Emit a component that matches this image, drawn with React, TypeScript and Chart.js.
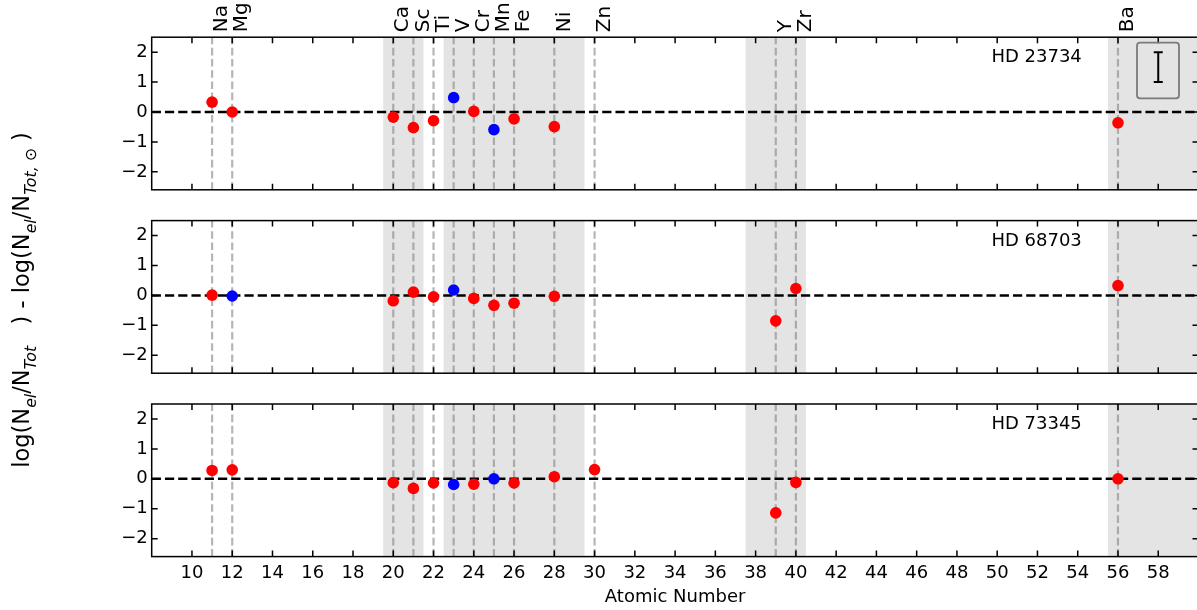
import React, { useEffect, useRef } from 'react';
import { Chart, registerables } from 'chart.js';

Chart.register(...registerables);

// ---------- data ----------
const elementNames = ['Na', 'Mg', 'Ca', 'Sc', 'Ti', 'V', 'Cr', 'Mn', 'Fe', 'Ni', 'Zn', 'Y', 'Zr', 'Ba'];
const atomicNumbers = [11, 12, 20, 21, 22, 23, 24, 25, 26, 28, 30, 39, 40, 56];
const xTicks = [10, 12, 14, 16, 18, 20, 22, 24, 26, 28, 30, 32, 34, 36, 38, 40, 42, 44, 46, 48, 50, 52, 54, 56, 58];
const yTicks = [-2, -1, 0, 1, 2];
const shadeStarts = [19.5, 22.5, 37.5, 55.5];
const shadeEnds = [21.5, 29.5, 40.5, 60];
const starNames = ['HD 23734', 'HD 68703', 'HD 73345'];

//                  Na    Mg    Ca     Sc     Ti     V      Cr     Mn     Fe     Ni     Zn    Y      Zr     Ba
const hd23734Red = [0.33, 0.0, -0.17, -0.52, -0.29, null, 0.02, null, -0.23, -0.49, null, null, null, -0.36];
const hd23734Blue = [null, null, null, null, null, 0.48, null, -0.59, null, null, null, null, null, null];
const hd68703Red = [0.01, null, -0.18, 0.11, -0.05, null, -0.1, -0.33, -0.26, -0.03, null, -0.85, 0.23, 0.33];
const hd68703Blue = [null, -0.02, null, null, null, 0.18, null, null, null, null, null, null, null, null];
const hd73345Red = [0.28, 0.3, -0.13, -0.32, -0.14, null, -0.18, null, -0.14, 0.07, 0.31, -1.14, -0.12, 0.0];
const hd73345Blue = [null, null, null, null, null, -0.19, null, 0.0, null, null, null, null, null, null];

const errorBarX = [58];
const errorBarY = [1.5];
const errorBarHalf = [0.5];

const redSeries = [hd23734Red, hd68703Red, hd73345Red];
const blueSeries = [hd23734Blue, hd68703Blue, hd73345Blue];

// ---------- layout / style ----------
const FONT = '"DejaVu Sans"';
const W = 1200;
const H = 610;
const PANEL_TOPS = [37.2, 220.6, 404];
const PANEL_BOTTOMS = [189.8, 373.2, 556.6];
const PLOT_LEFT = 151.7;
const PLOT_RIGHT = 1198.5;

function toPoints(vals: (number | null)[]) {
  const out: { x: number; y: number }[] = [];
  vals.forEach((v, i) => {
    if (v !== null && v !== undefined) out.push({ x: atomicNumbers[i], y: v });
  });
  return out;
}

function drawYLabel(ctx: CanvasRenderingContext2D, cx: number, cy: number, size: number) {
  const segs: { t: string; sub?: boolean; it?: boolean }[] = [
    { t: 'log(N' },
    { t: 'el', sub: true, it: true },
    { t: '/N' },
    { t: 'Tot', sub: true, it: true },
    { t: '   ) - log(N' },
    { t: 'el', sub: true, it: true },
    { t: '/N' },
    { t: 'Tot,', sub: true, it: true },
    { t: ' \u2299', sub: true },
    { t: ' )' },
  ];
  const subSize = size * 0.7;
  const fontFor = (s: { sub?: boolean; it?: boolean }) =>
    `${s.it ? 'italic ' : ''}${s.sub ? subSize : size}px ${FONT}`;
  let total = 0;
  const widths = segs.map((s) => {
    ctx.font = fontFor(s);
    const w = ctx.measureText(s.t).width;
    total += w;
    return w;
  });
  ctx.save();
  ctx.translate(cx, cy);
  ctx.rotate(-Math.PI / 2);
  ctx.fillStyle = '#000';
  ctx.textBaseline = 'alphabetic';
  ctx.textAlign = 'left';
  let xc = -total / 2;
  segs.forEach((s, i) => {
    ctx.font = fontFor(s);
    ctx.fillText(s.t, xc, s.sub ? size * 0.32 : 0);
    xc += widths[i];
  });
  ctx.restore();
}

function makePlugin(idx: number) {
  return {
    id: 'panelDeco' + idx,
    beforeDatasetsDraw(chart: any) {
      const { ctx, chartArea: a, scales } = chart;
      const xs = scales.x;
      const ys = scales.y;
      ctx.save();
      ctx.beginPath();
      ctx.rect(a.left, a.top, a.right - a.left, a.bottom - a.top);
      ctx.clip();
      // shaded spans
      ctx.fillStyle = '#e4e4e4';
      shadeStarts.forEach((s, i) => {
        const x0 = xs.getPixelForValue(s);
        const x1 = xs.getPixelForValue(shadeEnds[i]);
        ctx.fillRect(x0, a.top, x1 - x0, a.bottom - a.top);
      });
      // element lines
      ctx.strokeStyle = 'rgba(128,128,128,0.58)';
      ctx.lineWidth = 2.2;
      ctx.setLineDash([7.6, 3.6]);
      atomicNumbers.forEach((z) => {
        const px = xs.getPixelForValue(z);
        ctx.beginPath();
        ctx.moveTo(px, a.bottom);
        ctx.lineTo(px, a.top);
        ctx.stroke();
      });
      // zero line
      ctx.strokeStyle = '#000';
      ctx.lineWidth = 2.5;
      ctx.setLineDash([9.25, 4]);
      const py = ys.getPixelForValue(0);
      ctx.beginPath();
      ctx.moveTo(a.left, py);
      ctx.lineTo(a.right, py);
      ctx.stroke();
      ctx.restore();
    },
    afterDraw(chart: any) {
      const { ctx, chartArea: a, scales } = chart;
      const xs = scales.x;
      const ys = scales.y;
      ctx.save();
      // frame
      ctx.strokeStyle = '#000';
      ctx.lineWidth = 1.5;
      ctx.setLineDash([]);
      ctx.strokeRect(a.left, a.top, a.right - a.left, a.bottom - a.top);
      // ticks inward
      const tl = 6;
      ctx.beginPath();
      xTicks.forEach((v) => {
        const px = xs.getPixelForValue(v);
        ctx.moveTo(px, a.top);
        ctx.lineTo(px, a.top + tl);
        ctx.moveTo(px, a.bottom);
        ctx.lineTo(px, a.bottom - tl);
      });
      yTicks.forEach((v) => {
        const py = ys.getPixelForValue(v);
        ctx.moveTo(a.left, py);
        ctx.lineTo(a.left + tl, py);
        ctx.moveTo(a.right, py);
        ctx.lineTo(a.right - tl, py);
      });
      ctx.stroke();
      // star label
      ctx.fillStyle = '#000';
      ctx.font = `18px ${FONT}`;
      ctx.textAlign = 'right';
      ctx.textBaseline = 'alphabetic';
      ctx.fillText(starNames[idx], a.left + 0.8885 * (a.right - a.left), a.top + 25);

      if (idx === 0) {
        // error-bar legend box
        const bw = 42;
        const bh = 55.6;
        const bx = a.right - 19.5 - bw;
        const by = a.top + 5.5;
        ctx.strokeStyle = '#7a7a7a';
        ctx.lineWidth = 1.8;
        ctx.beginPath();
        ctx.roundRect(bx, by, bw, bh, 3);
        ctx.stroke();
        ctx.strokeStyle = '#000';
        ctx.lineWidth = 2;
        errorBarX.forEach((ex, i) => {
          const px = xs.getPixelForValue(ex);
          const y0 = ys.getPixelForValue(errorBarY[i] - errorBarHalf[i]);
          const y1 = ys.getPixelForValue(errorBarY[i] + errorBarHalf[i]);
          ctx.beginPath();
          ctx.moveTo(px, y0);
          ctx.lineTo(px, y1);
          ctx.moveTo(px - 4.5, y0);
          ctx.lineTo(px + 4.5, y0);
          ctx.moveTo(px - 4.5, y1);
          ctx.lineTo(px + 4.5, y1);
          ctx.stroke();
        });
        // element names on top
        ctx.font = `20px ${FONT}`;
        ctx.textAlign = 'left';
        ctx.textBaseline = 'top';
        elementNames.forEach((name, i) => {
          const px = xs.getPixelForValue(atomicNumbers[i]);
          ctx.save();
          ctx.translate(px, a.top - 5);
          ctx.rotate(-Math.PI / 2);
          ctx.fillText(name, 0, 0);
          ctx.restore();
        });
      }
      if (idx === 1) {
        drawYLabel(ctx, 29, 300, 22.5);
      }
      ctx.restore();
    },
  };
}

function makeChart(canvas: HTMLCanvasElement, idx: number) {
  const isBottom = idx === 2;
  const top = PANEL_TOPS[idx];
  const bottom = PANEL_BOTTOMS[idx];
  const xAxisH = isBottom ? H - bottom : 0;
  const chart = new Chart(canvas, {
    type: 'scatter',
    data: {
      datasets: [
        {
          data: toPoints(blueSeries[idx]),
          backgroundColor: '#0000ff',
          borderWidth: 0,
          pointRadius: 5.8,
          pointHoverRadius: 5.8,
        },
        {
          data: toPoints(redSeries[idx]),
          backgroundColor: '#ff0000',
          borderWidth: 0,
          pointRadius: 5.8,
          pointHoverRadius: 5.8,
        },
      ],
    },
    options: {
      responsive: false,
      animation: false,
      events: [],
      layout: {
        autoPadding: false,
        padding: { left: 0, right: W - PLOT_RIGHT, top: top, bottom: H - bottom - xAxisH },
      },
      plugins: { legend: { display: false }, tooltip: { enabled: false }, title: { display: false } },
      scales: {
        x: {
          type: 'linear',
          min: 8,
          max: 60,
          grid: { display: false, drawTicks: false },
          border: { display: false },
          afterBuildTicks: (s: any) => {
            s.ticks = xTicks.map((v) => ({ value: v }));
          },
          afterFit: (s: any) => {
            s.height = xAxisH;
          },
          ticks: {
            display: isBottom,
            autoSkip: false,
            maxRotation: 0,
            minRotation: 0,
            padding: 6,
            color: '#000',
            font: { family: FONT, size: 18 },
          },
          title: {
            display: isBottom,
            text: 'Atomic Number',
            color: '#000',
            font: { family: FONT, size: 18 },
            padding: { top: 0, bottom: 2 },
          },
        },
        y: {
          type: 'linear',
          min: -2.6,
          max: 2.5,
          grid: { display: false, drawTicks: false },
          border: { display: false },
          afterBuildTicks: (s: any) => {
            s.ticks = yTicks.map((v) => ({ value: v }));
          },
          afterFit: (s: any) => {
            s.width = PLOT_LEFT;
          },
          ticks: {
            padding: 4,
            color: '#000',
            font: { family: FONT, size: 18 },
            callback: (v: any) => (Number(v) < 0 ? '\u2212' + Math.abs(Number(v)) : String(v)),
          },
        },
      },
    } as any,
    plugins: [makePlugin(idx)],
  });
  // calibrate the plot area so that it lands exactly on the target box
  const pad = (chart.options as any).layout.padding;
  for (let k = 0; k < 2; k++) {
    const a = chart.chartArea;
    const dL = a.left - PLOT_LEFT;
    const dR = PLOT_RIGHT - a.right;
    const dT = a.top - top;
    const dB = bottom - a.bottom;
    if (Math.abs(dL) + Math.abs(dR) + Math.abs(dT) + Math.abs(dB) < 0.05) break;
    pad.left -= dL;
    pad.right -= dR;
    pad.top -= dT;
    pad.bottom -= dB;
    chart.update();
  }
  return chart;
}

export default function App() {
  const r0 = useRef<HTMLCanvasElement>(null);
  const r1 = useRef<HTMLCanvasElement>(null);
  const r2 = useRef<HTMLCanvasElement>(null);
  useEffect(() => {
    const charts = [r0, r1, r2].map((r, i) => makeChart(r.current as HTMLCanvasElement, i));
    return () => charts.forEach((c) => c.destroy());
  }, []);
  const cs: React.CSSProperties = { position: 'absolute', left: 0, top: 0, width: W, height: H };
  return (
    <div
      style={{ position: 'absolute', left: 0, top: 0, width: 1197, height: 610, overflow: 'hidden', background: '#fff' }}
    >
      <canvas ref={r0} width={W} height={H} style={cs} />
      <canvas ref={r1} width={W} height={H} style={cs} />
      <canvas ref={r2} width={W} height={H} style={cs} />
    </div>
  );
}
